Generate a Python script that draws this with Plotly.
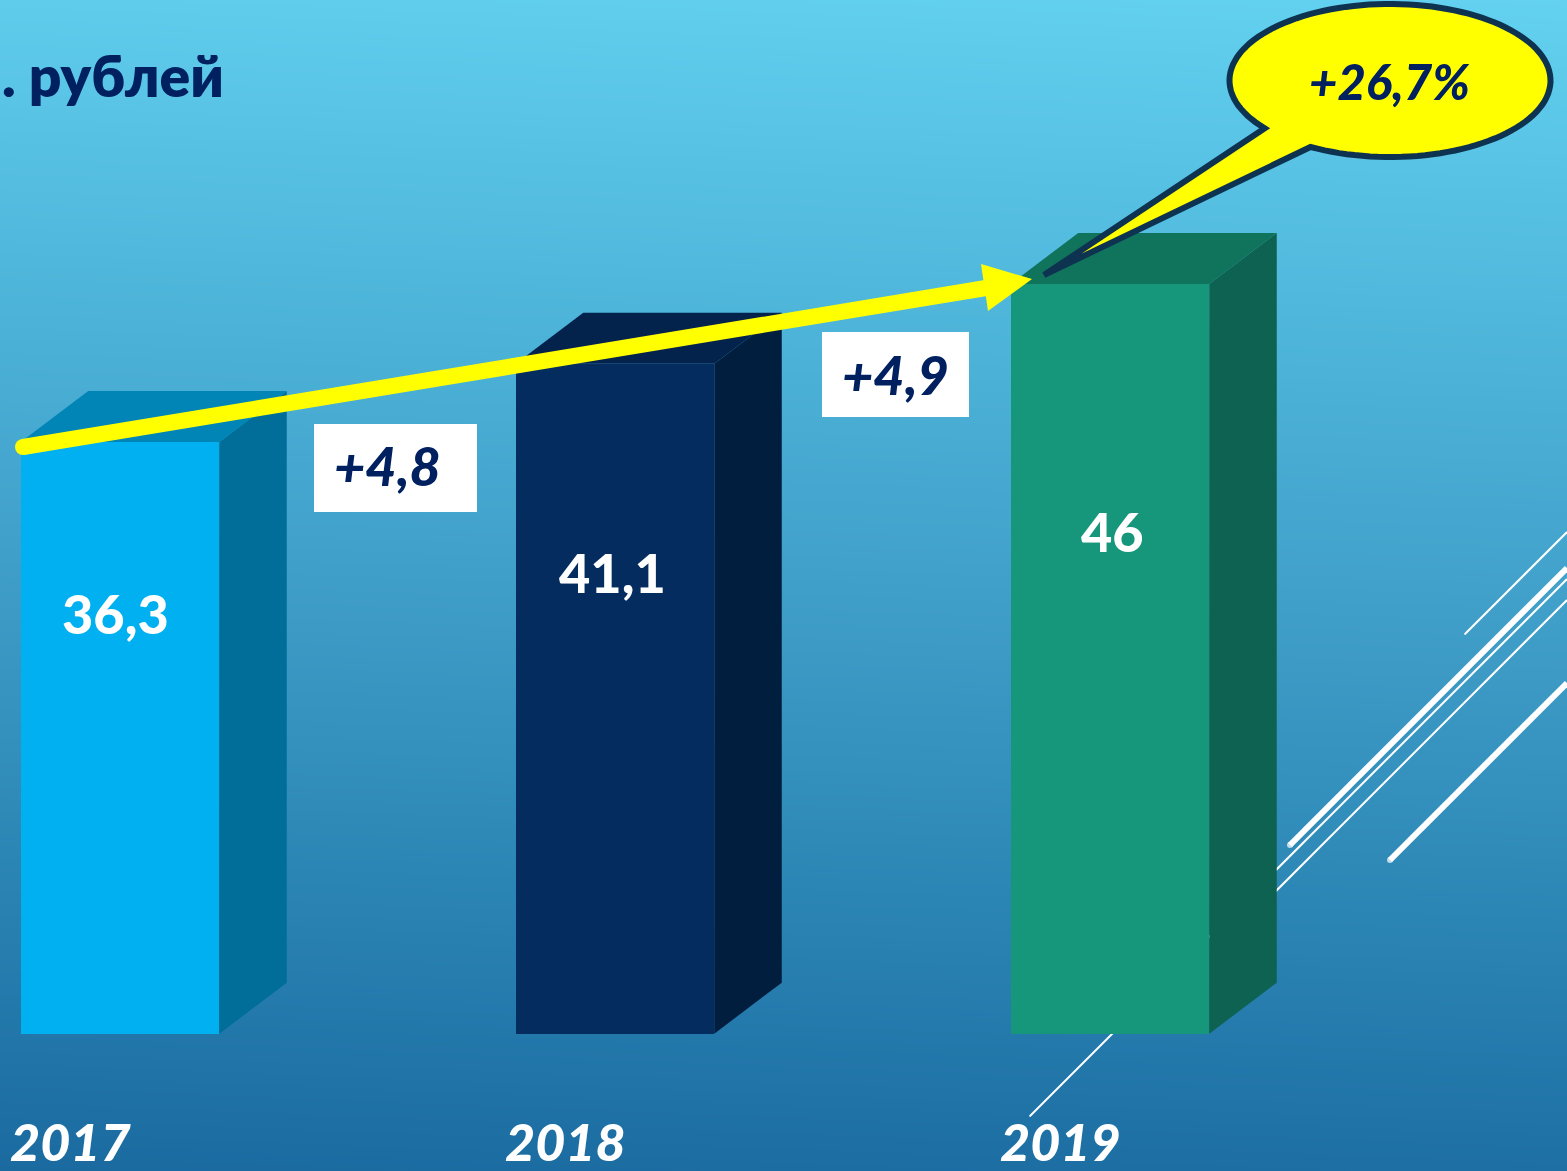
import math
import plotly.graph_objects as go

# ---- data ----
years = [2017, 2018, 2019]
values = [36.3, 41.1, 46]
value_labels = ["36,3", "41,1", "46"]
year_labels = ["2017", "2018", "2019"]
deltas = ["+4,8", "+4,9"]
growth = "+26,7%"
unit_text = ". рублей"

# ---- styles ----
front = ["#00B0F0", "#042C5F", "#16967A"]
side = ["#006E99", "#021E3F", "#0D6252"]
top = ["#0085B6", "#03234D", "#10735C"]
NAVY = "#002060"
YELLOW = "#FFFF00"
OUTLINE = "#0E3350"
W, H = 1567, 1171
FONT = "Lato"

# scales: bars live on a value / year axis pair overlaying a pixel-sized canvas
PX_PER_UNIT = 16.3
BASE_PX = 1033.7
PX_PER_YEAR = 495
X0_PX = 120
y2_range = [(BASE_PX - H) / PX_PER_UNIT, BASE_PX / PX_PER_UNIT]
x2_range = [2017 - X0_PX / PX_PER_YEAR, 2017 + (W - X0_PX) / PX_PER_YEAR]
BAR_W = 198.5 / PX_PER_YEAR
DX = 67.5 / PX_PER_YEAR
DY = 51 / PX_PER_UNIT

fig = go.Figure()

# background gradient
fig.add_trace(go.Heatmap(
    x=[0, W], y=[0, H], z=[[0.05, 0.0], [1.0, 0.95]], zmin=0, zmax=1,
    zsmooth="best", showscale=False, hoverinfo="skip",
    colorscale=[[0, "#63D1F0"], [0.25, "#50B8DC"], [0.5, "#409FC9"],
                [0.75, "#2B85B4"], [1, "#1A6AA0"]],
    xaxis="x", yaxis="y"))

# decorative diagonal lines (behind the bars)
for (x0, y0, x1, y1, w) in [
    (1290, 845, 1567, 568, 6), (1390, 860, 1567, 683, 6),
    (1030, 1116, 1567, 579, 2), (1250, 917, 1567, 600, 2),
    (1465, 634, 1567, 532, 2)]:
    fig.add_trace(go.Scatter(
        x=[x0, x1], y=[y0, y1], mode="lines+markers",
        line=dict(color="white", width=w),
        marker=dict(color="white", size=[w, 0], line=dict(width=0)),
        hoverinfo="skip", xaxis="x", yaxis="y"))

# front faces
fig.add_trace(go.Bar(
    x=years, y=values, width=BAR_W, marker=dict(color=front, line=dict(width=0)),
    hoverinfo="skip", xaxis="x2", yaxis="y2"))

# 3-D faces derived from the values
for yr, v, cs, ct in zip(years, values, side, top):
    r = yr + BAR_W / 2
    l = yr - BAR_W / 2
    fig.add_trace(go.Scatter(
        x=[r, r + DX, r + DX, r, r], y=[v, v + DY, DY, 0, v], mode="lines",
        fill="toself", fillcolor=cs, line=dict(width=0), hoverinfo="skip",
        xaxis="x2", yaxis="y2"))
    fig.add_trace(go.Scatter(
        x=[l, l + DX, r + DX, r, l], y=[v, v + DY, v + DY, v, v], mode="lines",
        fill="toself", fillcolor=ct, line=dict(width=0), hoverinfo="skip",
        xaxis="x2", yaxis="y2"))

# speech bubble outline
cx, cy, rx, ry = 1390, 80.5, 160.5, 76.5
pts = [(1044, 275)]
n = 120
for i in range(n + 1):
    t = math.radians(119.7 + (-218.7 - 119.7) * i / n)
    pts.append((cx + rx * math.cos(t), cy + ry * math.sin(t)))
bubble = "M" + " L".join(f"{px:.1f},{py:.1f}" for px, py in pts) + " Z"

shapes = [
    # arrow shaft and rounded start
    dict(type="line", x0=23, y0=447, x1=986, y1=288, xref="x", yref="y",
         line=dict(color=YELLOW, width=16)),
    dict(type="circle", x0=15, y0=439, x1=31, y1=455, xref="x", yref="y",
         fillcolor=YELLOW, line=dict(width=0)),
    # arrow head
    dict(type="path", path="M981,264 L1032,279 L988,311 Z", xref="x", yref="y",
         fillcolor=YELLOW, line=dict(width=0)),
    # speech bubble
    dict(type="path", path=bubble, xref="x", yref="y", fillcolor=YELLOW,
         line=dict(color=OUTLINE, width=6)),
    # boxes behind the delta labels
    dict(type="rect", x0=314, y0=424, x1=477, y1=512, xref="x", yref="y",
         fillcolor="white", line=dict(width=0)),
    dict(type="rect", x0=822, y0=332, x1=969, y1=417, xref="x", yref="y",
         fillcolor="white", line=dict(width=0)),
]

ann = []
# value labels inside the bars
for yr, v, lab, off, xs in zip(years, values, value_labels, [171, 209, 248], [-5, -3, 2]):
    ann.append(dict(x=yr, y=v, xref="x2", yref="y2", text=lab,
                    showarrow=False, xanchor="center", yanchor="middle",
                    xshift=xs, yshift=-off,
                    font=dict(family=FONT, size=54, color="white", weight=900)))
# year labels
for yr, lab in zip(years, year_labels):
    ann.append(dict(x=yr, y=1141, xref="x2", yref="y", text=f"<i>{lab}</i>",
                    height=54, showarrow=False, xanchor="center", yanchor="middle",
                    xshift=-50,
                    font=dict(family=FONT, size=52, color="white", weight=900)))
# delta labels
for txt, px, py in zip(deltas, [387, 895], [465, 374]):
    ann.append(dict(x=px, y=py, xref="x", yref="y", text=f"<i>{txt}</i>",
                    showarrow=False, xanchor="center", yanchor="middle",
                    font=dict(family=FONT, size=54, color=NAVY, weight=900)))
# growth
ann.append(dict(x=1389, y=81, xref="x", yref="y", text=f"<i>{growth}</i>",
                showarrow=False, xanchor="center", yanchor="middle",
                font=dict(family=FONT, size=49, color=NAVY, weight=900)))
# unit text
ann.append(dict(x=0, y=75, xref="x", yref="y", text=unit_text,
                showarrow=False, xanchor="left", yanchor="middle",
                font=dict(family=FONT, size=57, color=NAVY, weight=800)))

hidden = dict(visible=False, showgrid=False, zeroline=False, fixedrange=True)
fig.update_layout(
    width=W, height=H, margin=dict(l=0, r=0, t=0, b=0), showlegend=False,
    paper_bgcolor="#1A6AA0", plot_bgcolor="rgba(0,0,0,0)",
    bargap=0, shapes=shapes, annotations=ann,
    xaxis=dict(range=[0, W], domain=[0, 1], **hidden),
    yaxis=dict(range=[H, 0], domain=[0, 1], **hidden),
    xaxis2=dict(range=x2_range, overlaying="x", tickvals=years, **hidden),
    yaxis2=dict(range=y2_range, overlaying="y", **hidden),
)

fig.write_html("out.html", config=dict(displayModeBar=False),
               post_script="document.body.style.margin='0';document.body.style.overflow='hidden';")
